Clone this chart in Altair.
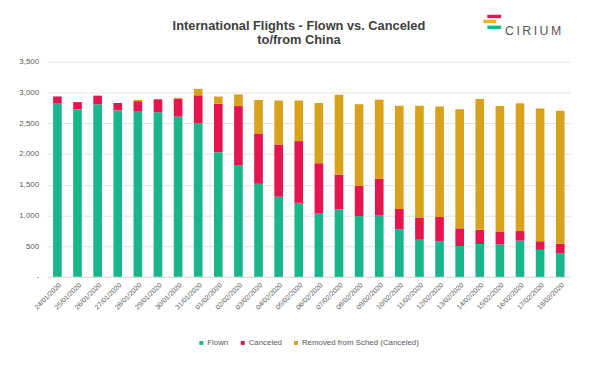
import altair as alt
import pandas as pd

dates = ["24/01/2020", "25/01/2020", "26/01/2020", "27/01/2020", "28/01/2020",
         "29/01/2020", "30/01/2020", "31/01/2020", "01/02/2020", "02/02/2020",
         "03/02/2020", "04/02/2020", "05/02/2020", "06/02/2020", "07/02/2020",
         "08/02/2020", "09/02/2020", "10/02/2020", "11/02/2020", "12/02/2020",
         "13/02/2020", "14/02/2020", "15/02/2020", "16/02/2020", "17/02/2020",
         "18/02/2020"]
flown = [2830, 2730, 2810, 2710, 2690, 2680, 2610, 2500, 2030, 1815,
         1515, 1305, 1205, 1040, 1100, 990, 1005, 775, 605, 580,
         500, 535, 530, 590, 440, 385]
canceled = [107, 115, 140, 120, 170, 210, 290, 455, 790, 965,
            820, 850, 1005, 810, 565, 490, 595, 330, 355, 395,
            290, 230, 210, 155, 140, 155]
removed = [0, 0, 0, 0, 20, 5, 15, 105, 115, 190,
           545, 715, 660, 980, 1300, 1330, 1285, 1680, 1825, 1800,
           1940, 2130, 2040, 2080, 2160, 2165]

series = ["Flown", "Canceled", "Removed from Sched (Canceled)"]
colors = ["#19b68c", "#e5154f", "#d9a21c"]
title_lines = ["International Flights - Flown vs. Canceled", "to/from China"]

rows = []
for i, d in enumerate(dates):
    for k, (name, vals) in enumerate(zip(series, [flown, canceled, removed])):
        rows.append({"date": d, "series": name, "value": vals[i], "order": k})
df = pd.DataFrame(rows)

FONT = "Liberation Sans"

bars = alt.Chart(df).mark_bar().encode(
    x=alt.X("date:N", sort=dates, title=None,
            scale=alt.Scale(paddingInner=0.57, paddingOuter=0.28),
            axis=alt.Axis(labelAngle=-45, labelFontSize=7, labelColor="#595959",
                          labelFont=FONT, ticks=False, domainColor="#d9d9d9",
                          labelPadding=4, grid=False)),
    y=alt.Y("value:Q", stack="zero", title=None,
            scale=alt.Scale(domain=[0, 3500]),
            axis=alt.Axis(values=[0, 500, 1000, 1500, 2000, 2500, 3000, 3500],
                          labelExpr="datum.value == 0 ? '-' : format(datum.value, ',')",
                          labelFontSize=8, labelColor="#595959", labelFont=FONT,
                          ticks=False, domain=False, gridColor="#e4e4e4",
                          labelPadding=9)),
    color=alt.Color("series:N", sort=series,
                    scale=alt.Scale(domain=series, range=colors),
                    legend=alt.Legend(title=None, orient="none", direction="horizontal",
                                      columns=3, legendX=152, legendY=281,
                                      symbolType="square", symbolSize=16,
                                      labelFontSize=8, labelFont=FONT,
                                      labelColor="#595959", columnPadding=10,
                                      labelOffset=2, padding=0)),
    order=alt.Order("order:Q"),
)

t1 = alt.Chart(pd.DataFrame({"t": [title_lines[0]]})).mark_text(
    align="center", baseline="alphabetic", fontSize=13, font=FONT,
    fontWeight="bold", color="#404040"
).encode(text="t:N", x=alt.value(255), y=alt.value(-32))
t2 = alt.Chart(pd.DataFrame({"t": [title_lines[1]]})).mark_text(
    align="center", baseline="alphabetic", fontSize=13, font=FONT,
    fontWeight="bold", color="#404040"
).encode(text="t:N", x=alt.value(255), y=alt.value(-18))

logo = alt.Chart(pd.DataFrame({"t": ["C\u2009I\u2009R\u2009I\u2009U\u2009M"]})).mark_text(
    align="left", baseline="alphabetic", fontSize=12.5, font=FONT,
    color="#555555"
).encode(text="t:N", x=alt.value(464), y=alt.value(-27))

stripe_df = pd.DataFrame({"c": ["pink", "gold", "green"]})
s1 = alt.Chart(stripe_df.iloc[[0]]).mark_rule(color="#e5154f", strokeWidth=3.5).encode(
    x=alt.value(446), x2=alt.value(460), y=alt.value(-46))
s2 = alt.Chart(stripe_df.iloc[[1]]).mark_rule(color="#e8b81c", strokeWidth=3.5).encode(
    x=alt.value(442), x2=alt.value(455), y=alt.value(-41))
s3 = alt.Chart(stripe_df.iloc[[2]]).mark_rule(color="#19b68c", strokeWidth=3.5).encode(
    x=alt.value(446), x2=alt.value(460), y=alt.value(-35))

chart = alt.layer(bars, t1, t2, logo, s1, s2, s3).properties(
    width=530, height=218,
    autosize=alt.AutoSizeParams(type="none"),
    padding={"left": 40, "top": 52, "right": 14, "bottom": 104},
).configure_view(stroke=None)

chart.save("out.html", embed_options={"renderer": "svg", "actions": False})
